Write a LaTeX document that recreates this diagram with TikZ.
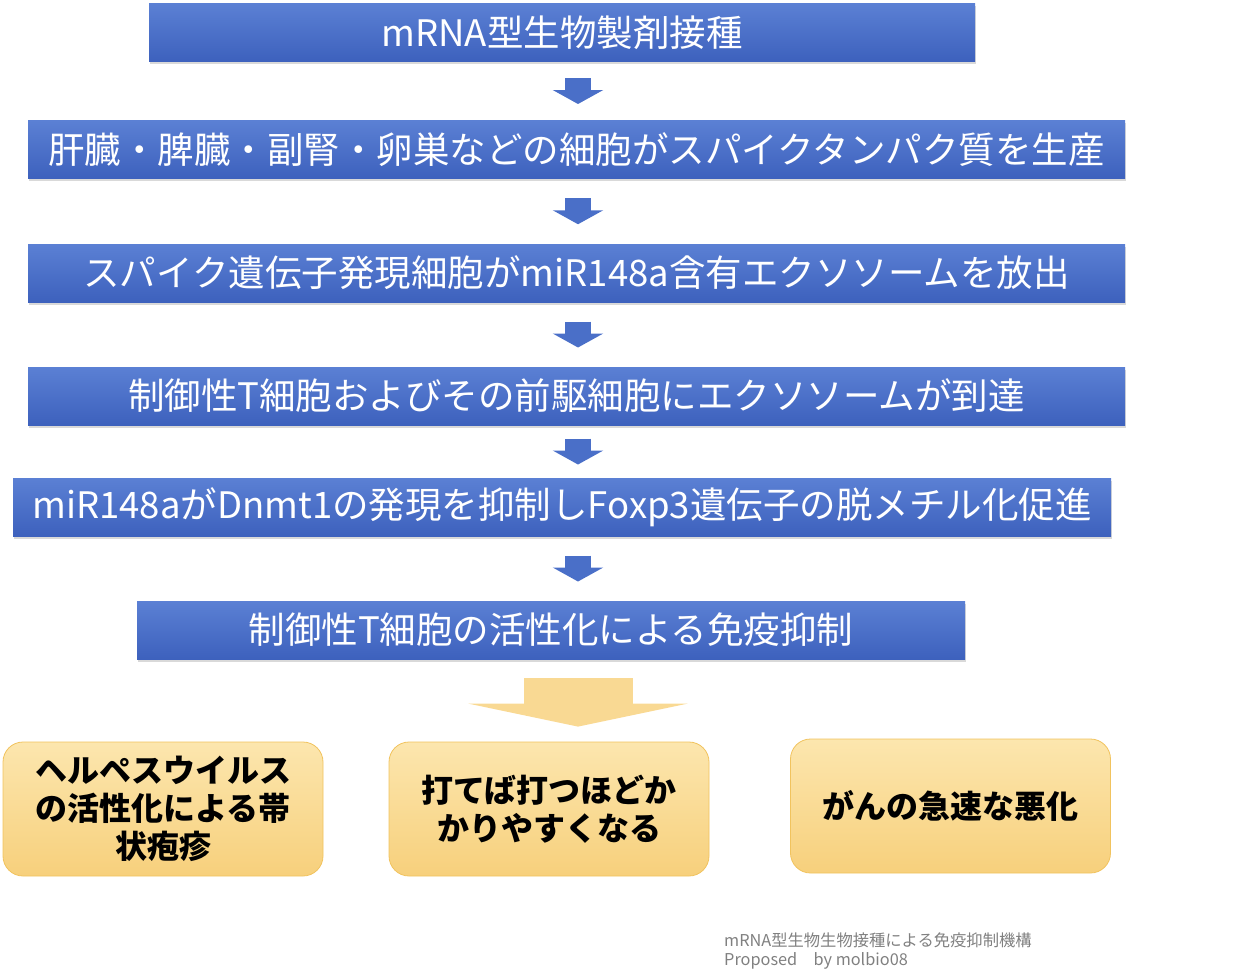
\documentclass[tikz,border=0pt]{standalone}
\usepackage{fontspec}
\setmainfont{Noto Sans CJK JP}
\usepackage{xcolor}
\definecolor{FlowBlueTop}{HTML}{5B80D4}
\definecolor{FlowBlueBot}{HTML}{3D61BD}
\definecolor{FlowArrow}{HTML}{4A6FC8}
\definecolor{OutcomeTop}{HTML}{FCE6AE}
\definecolor{OutcomeBot}{HTML}{F7D07C}
\definecolor{OutcomeEdge}{HTML}{F1C35E}
\definecolor{OutcomeArrow}{HTML}{F9D993}
\definecolor{NoteGray}{HTML}{808080}
\usepackage{tikz}
\usetikzlibrary{positioning,arrows.meta,calc,shadows}
\tikzset{
  stepbar/.style={top color=FlowBlueTop,bottom color=FlowBlueBot,draw=none,text=white,align=center,inner sep=0pt,minimum height=58pt,font=\fontsize{36.5}{42}\selectfont,drop shadow={opacity=0.3,shadow xshift=1pt,shadow yshift=-2.5pt}},
  outcome/.style={top color=OutcomeTop,bottom color=OutcomeBot,draw=OutcomeEdge,line width=0.8pt,rounded corners=20pt,align=center,inner sep=0pt,minimum width=320pt,minimum height=134pt,font=\fontsize{32}{38}\selectfont\bfseries},
  stepflow/.style={draw=FlowArrow,line width=26pt,-{Triangle[width=50pt,length=14pt]}},
  fanflow/.style={draw=OutcomeArrow,line width=109pt,-{Triangle[width=219pt,length=23pt]}},
  note/.style={text=NoteGray,align=left,anchor=north west,inner sep=0pt,font=\fontsize{16.3}{19}\selectfont}
}

\begin{document}
\begin{tikzpicture}[x=1pt,y=-1pt]
  \useasboundingbox (0,0) rectangle (1242,978);
  \coordinate (axis) at (578,0);
  \node[stepbar,minimum width=826pt] (vaccine) at (562,32.5) {mRNA型生物製剤接種};
  \node[stepbar,minimum width=1097pt] (spike) at (576.5,149.5) {肝臓・脾臓・副腎・卵巣などの細胞がスパイクタンパク質を生産};
  \node[stepbar,minimum width=1097pt] (exosome) at (576.5,273) {スパイク遺伝子発現細胞がmiR148a含有エクソソームを放出};
  \node[stepbar,minimum width=1097pt] (treg) at (576.5,396) {制御性T細胞およびその前駆細胞にエクソソームが到達};
  \node[stepbar,minimum width=1098pt] (foxp) at (562,507) {miR148aがDnmt1の発現を抑制しFoxp3遺伝子の脱メチル化促進};
  \node[stepbar,minimum width=828pt] (suppress) at (551,630) {制御性T細胞の活性化による免疫抑制};
  \node[outcome] (herpes) at (163,809) {ヘルペスウイルス\\の活性化による帯\\状疱疹};
  \node[outcome] (infect) at (549,809) {打てば打つほどか\\かりやすくなる};
  \node[outcome] (cancer) at (950.5,806) {がんの急速な悪化};
  \node[note] (caption) at (724,933) {mRNA型生物生物接種による免疫抑制機構\\Proposed　by molbio08};
  \foreach \a/\b in {vaccine/spike,spike/exosome,exosome/treg,treg/foxp,foxp/suppress}
    \draw[stepflow] ($(\a.south -| axis)!.5!(\b.north -| axis)+(0,-13)$) -- ++(0,26);
  \draw[fanflow] ($(suppress.south -| axis)+(0,19)$) -- ($(infect.north -| axis)+(0,-15)$);
\end{tikzpicture}
\end{document}
